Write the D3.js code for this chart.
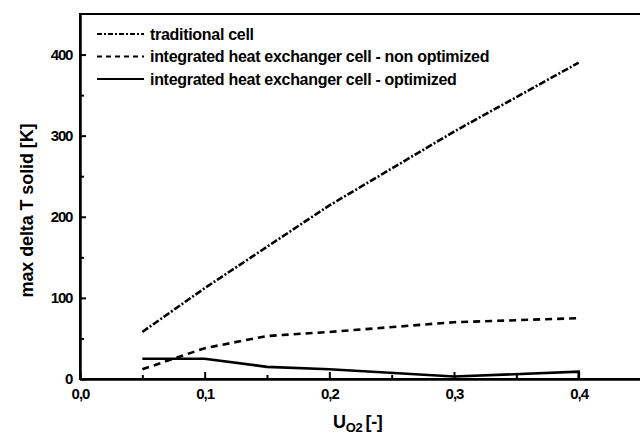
<!DOCTYPE html>
<html>
<head>
<meta charset="utf-8">
<script src="https://cdn.jsdelivr.net/npm/d3@7"></script>
<style>
  html, body { margin: 0; padding: 0; background: #fff; }
  svg { display: block; }
  text { font-family: "Liberation Sans", Arial, sans-serif; font-weight: bold; fill: #000; }
</style>
</head>
<body>
<div id="chart"></div>
<script>
// Utilisation of oxygen (x) vs. maximum solid temperature difference (y)
const uO2 = [0.05, 0.1, 0.15, 0.2, 0.3, 0.4];
const traditionalCell = [58, 112, 163, 214, 305, 390];
const nonOptimized = [12, 38, 53, 58, 70, 75];
const optimizedX = [0.05, 0.1, 0.15, 0.2, 0.3, 0.4, 0.4];
const optimized = [25, 25, 15, 12, 3, 9, 0];

const xTicks = [0, 0.1, 0.2, 0.3, 0.4];
const xTickLabels = ["0,0", "0,1", "0,2", "0,3", "0,4"];
const yTicks = [0, 100, 200, 300, 400];
const yTickLabels = ["0", "100", "200", "300", "400"];
const legendLabels = [
  "traditional cell",
  "integrated heat exchanger cell - non optimized",
  "integrated heat exchanger cell - optimized"
];

const W = 640, H = 436;
const m = { left: 80, right: -1, top: 14, bottom: 57 };

const svg = d3.select("#chart").append("svg").attr("width", W).attr("height", H);

const x = d3.scaleLinear().domain([0, 0.45]).range([m.left, W - m.right]);
const y = d3.scaleLinear().domain([0, 450]).range([H - m.bottom, m.top]);

// frame
svg.append("rect")
  .attr("x", x(0)).attr("y", y(450))
  .attr("width", x(0.45) - x(0)).attr("height", y(0) - y(450))
  .attr("fill", "none").attr("stroke", "#000").attr("stroke-width", 2);

// x axis: major ticks inside, minor ticks in between
const xAxis = d3.axisBottom(x).tickValues(xTicks)
  .tickFormat((d, i) => xTickLabels[i]).tickSizeInner(-7).tickSizeOuter(0).tickPadding(9);
const gx = svg.append("g").attr("transform", `translate(0,${y(0)})`).call(xAxis);
gx.select(".domain").attr("stroke-width", 2.5);
gx.selectAll(".tick line").attr("stroke-width", 2);
gx.selectAll(".tick text").attr("font-size", 15).attr("font-family", "Liberation Sans, Arial, sans-serif")
  .attr("font-weight", "bold").attr("letter-spacing", -1);
const gxm = svg.append("g").attr("transform", `translate(0,${y(0)})`)
  .call(d3.axisBottom(x).tickValues([0.05, 0.15, 0.25, 0.35]).tickFormat("").tickSizeInner(-4).tickSizeOuter(0));
gxm.select(".domain").remove();
gxm.selectAll(".tick line").attr("stroke-width", 2);

// y axis
const yAxis = d3.axisLeft(y).tickValues(yTicks)
  .tickFormat((d, i) => yTickLabels[i]).tickSizeInner(-6).tickSizeOuter(0).tickPadding(8);
const gy = svg.append("g").attr("transform", `translate(${x(0)},0)`).call(yAxis);
gy.select(".domain").attr("stroke-width", 2.5);
gy.selectAll(".tick line").attr("stroke-width", 2);
gy.selectAll(".tick text").attr("font-size", 15).attr("font-family", "Liberation Sans, Arial, sans-serif")
  .attr("font-weight", "bold").attr("letter-spacing", -1.3);
const gym = svg.append("g").attr("transform", `translate(${x(0)},0)`)
  .call(d3.axisLeft(y).tickValues([50, 150, 250, 350]).tickFormat("").tickSizeInner(-4).tickSizeOuter(0));
gym.select(".domain").remove();
gym.selectAll(".tick line").attr("stroke-width", 2);

// axis titles
svg.append("text")
  .attr("transform", `translate(33,${(y(0) + y(450)) / 2 + 14}) rotate(-90)`)
  .attr("text-anchor", "middle").attr("font-size", 18).attr("letter-spacing", -0.1)
  .text("max delta T solid [K]");

const xt = svg.append("text").attr("x", 333).attr("y", 428).attr("font-size", 18).attr("letter-spacing", -0.3);
xt.append("tspan").text("U");
xt.append("tspan").attr("font-size", 13).attr("dy", 4).text("O2");
xt.append("tspan").attr("dy", -4).attr("dx", 3).text("[-]");

// series
const series = [
  { xs: uO2, ys: traditionalCell, dash: "7,2,2,2" },
  { xs: uO2, ys: nonOptimized, dash: "7,5" },
  { xs: optimizedX, ys: optimized, dash: null }
];
const line = d3.line().x(d => x(d[0])).y(d => y(d[1]));
series.forEach(s => {
  svg.append("path")
    .datum(s.xs.map((v, i) => [v, s.ys[i]]))
    .attr("d", line)
    .attr("fill", "none").attr("stroke", "#000").attr("stroke-width", 2.6)
    .attr("stroke-dasharray", s.dash);
});

// legend
const lg = svg.append("g");
legendLabels.forEach((lab, i) => {
  const ly = 34 + i * 22.5;
  lg.append("line").attr("x1", 97).attr("x2", 144).attr("y1", ly).attr("y2", ly)
    .attr("stroke", "#000").attr("stroke-width", 2)
    .attr("stroke-dasharray", series[i].dash ? (i === 0 ? "5,2,2,2" : "5,4") : null);
  lg.append("text").attr("x", 150).attr("y", ly + 5.5)
    .attr("font-size", 16).attr("letter-spacing", -0.3).text(lab);
});
</script>
</body>
</html>
